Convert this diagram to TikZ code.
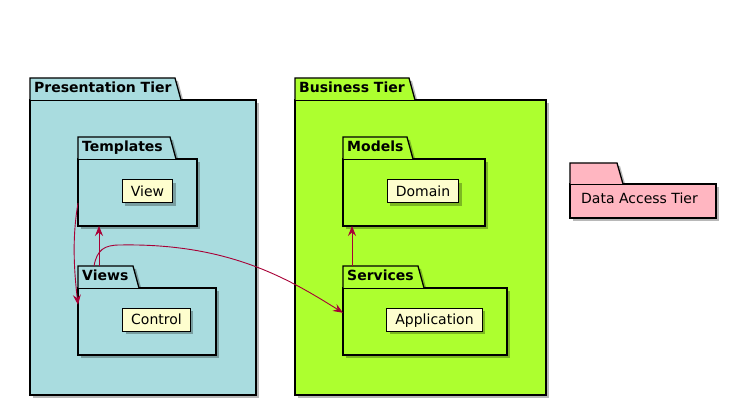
\documentclass[tikz,border=0pt]{standalone}
\usepackage{fontspec}
\setmainfont{DejaVu Sans}
\usepackage{tikz}
\usetikzlibrary{positioning,calc,shadows,arrows.meta}

\definecolor{presblue}{HTML}{A9DCDF}
\definecolor{bizgreen}{HTML}{ADFF2F}
\definecolor{datapink}{HTML}{FFB6C1}
\definecolor{compyellow}{HTML}{FEFECE}
\definecolor{arrowred}{HTML}{A80036}

\tikzset{
    shade/.style={fill=black, opacity=0.28},
    pkg/.style={draw, line width=1.3pt, inner sep=0pt, outer sep=0pt, anchor=north west,
        drop shadow={shadow xshift=3pt, shadow yshift=-3pt, fill=black, opacity=0.28}},
    pkgline/.style={line width=1.3pt},
    tablabel/.style={anchor=base west, inner sep=0pt, font=\fontsize{14}{16}\selectfont\bfseries},
    comp/.style={draw, fill=compyellow, line width=1pt, minimum height=23pt, inner xsep=8.5pt,
        text height=10pt, text depth=0pt,
        drop shadow={shadow xshift=3pt, shadow yshift=-3pt, fill=black, opacity=0.28}},
    dep/.style={draw=arrowred, line width=0.9pt, -{Stealth[length=10pt, width=8pt, inset=3.5pt, fill=arrowred]}}
}

\begin{document}
\begin{tikzpicture}[x=1pt, y=1pt, font=\fontsize{14}{16}\selectfont]
    \useasboundingbox (0,0) rectangle (737,406);

    % Packages: body node, then the tab on top of it
    \foreach \n/\x/\y/\w/\h/\t/\c/\l in {
        pres/30/306/226/295/145/presblue/Presentation Tier,
        tpl/78/247/119/67/92/presblue/Templates,
        views/78/118/138/67/55/presblue/Views,
        biz/295/306/251/295/114/bizgreen/Business Tier,
        models/343/247/142/67/64/bizgreen/Models,
        svc/343/118/164/67/75/bizgreen/Services} {
        \fill[shade] (\x+3,\y-3) -- ++(0,22) -- ++(\t,0) -- ++(6,-22) -- cycle;
        \node[pkg, fill=\c, minimum width=\w, minimum height=\h] (\n) at (\x,\y) {};
        \draw[pkgline, fill=\c] (\n.north west) -- ++(0,22) coordinate (\n-top) -- ++(\t,0) -- ++(6,-22);
        \node[tablabel] (\n-lbl) at ($(\n.north west)+(4,7)$) {\l};
    }

    % Data access tier (empty tab)
    \fill[shade] (573,219) -- ++(0,21) -- ++(47,0) -- ++(6,-21) -- cycle;
    \node[pkg, fill=datapink, minimum width=146, minimum height=34] (data) at (570,222) {};
    \draw[pkgline, fill=datapink] (data.north west) -- ++(0,21) -- ++(47,0) -- ++(6,-21);
    \node[anchor=base west, inner sep=0pt] (data-lbl) at ($(data.north west)+(11,-20)$) {Data Access Tier};

    % Components
    \foreach \n/\px/\py/\l in {view/147.5/214.5/View, ctrl/156.5/86/Control,
        dom/423/214.5/Domain, app/434.5/86/Application}
        \node[comp] (\n) at (\px,\py) {\l};

    % Dependencies
    \draw[dep] ($(tpl.south west)!0.34!(tpl.north west)$) .. controls +(-6,-35) and +(-4,35) .. ($(views.north west)!0.25!(views.south west)$);
    \coordinate (vt) at ($(views-top)+(21,0)$);
    \draw[dep] (vt) -- (vt |- tpl.south);
    \coordinate (vs) at ($(views-top)+(16,0)$);
    \draw[dep] (vs) .. controls +(3,16) and +(-16,0) .. ++(26,21)
        .. controls +(110,2) and +(-53,33) .. ($(svc.north west)!0.37!(svc.south west)$);
    \coordinate (sm) at ($(svc-top)+(9,0)$);
    \draw[dep] (sm) -- (sm |- models.south);
\end{tikzpicture}
\end{document}
